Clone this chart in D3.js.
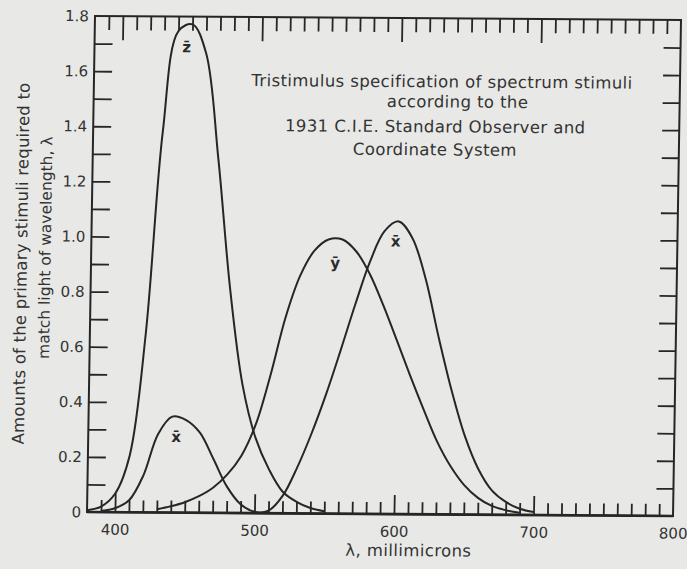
<!DOCTYPE html>
<html><head><meta charset="utf-8">
<script src="https://cdn.jsdelivr.net/npm/d3@7"></script>
<style>html,body{margin:0;padding:0;background:#e8e8e6;} svg{display:block;}</style>
</head><body>
<svg id="chart" width="687" height="569"></svg>
<script>
// ---- data (CIE 1931 colour-matching curves) ----
const xbarWavelengths = [390,400,410,420,430,440,450,460,470,480,490,500,510,520,530,540,550,560,570,580,590,600,610,620,630,640,650,660,670,680,690,700];
const xbarValues      = [0.0042,0.0143,0.0435,0.1344,0.2839,0.3483,0.3362,0.2908,0.1954,0.0956,0.0320,0.0049,0.0093,0.0633,0.1655,0.2904,0.4334,0.5945,0.7621,0.9163,1.0263,1.0622,1.0026,0.8545,0.6424,0.4479,0.2835,0.1649,0.0874,0.0468,0.0227,0.0114];
const ybarWavelengths = [430,440,450,460,470,480,490,500,510,520,530,540,550,560,570,580,590,600,610,620,630,640,650,660,670,680,690];
const ybarValues      = [0.0116,0.023,0.038,0.060,0.091,0.139,0.208,0.323,0.503,0.710,0.862,0.954,0.995,0.995,0.952,0.870,0.757,0.631,0.503,0.381,0.265,0.175,0.107,0.061,0.032,0.017,0.0082];
const zbarWavelengths = [380,390,400,410,420,430,440,450,460,470,480,490,500,510,520,530,540,550];
const zbarValues      = [0.0065,0.0201,0.0679,0.2074,0.6456,1.3856,1.7471,1.7721,1.6692,1.2876,0.8130,0.4652,0.2720,0.1582,0.0783,0.0422,0.0203,0.0088];

const curveLabelTexts = ["z\u0304","x\u0304","y\u0304","x\u0304"];
const curveLabelWl    = [446, 443, 555, 598];
const curveLabelVal   = [1.69, 0.275, 0.91, 0.99];

const yTickValues = [0,0.2,0.4,0.6,0.8,1.0,1.2,1.4,1.6,1.8];
const yTickLabels = ["0","0.2","0.4","0.6","0.8","1.0","1.2","1.4","1.6","1.8"];
const xTickValues = [400,500,600,700,800];
const xTickLabels = ["400","500","600","700","800"];

const titleLines = ["Tristimulus specification of spectrum stimuli","according to the","1931 C.I.E. Standard Observer and","Coordinate System"];
const yTitleLines = ["Amounts of the primary stimuli required to","match light of wavelength, \u03bb"];
const xTitle = "\u03bb, millimicrons";

// ---- layout ----
const L = 91, R = 677, T = 18, B = 514;
const ink = "#262626";
const font = "'DejaVu Sans', sans-serif";

const x = d3.scaleLinear().domain([380, 800]).range([L, R]);
const y = d3.scaleLinear().domain([0, 1.8]).range([B, T]);

const svg = d3.select("#chart");
svg.append("rect").attr("width", 687).attr("height", 569).attr("fill", "#e8e8e6");

// slight skew like the scanned page
const s1 = -0.0161, s2 = 0.0068, cx = 384, cy = 266;
const g = svg.append("g")
  .attr("transform", `matrix(1,${s2},${s1},1,${-s1*cy},${-s2*cx})`);

// frame
g.append("rect").attr("x", L).attr("y", T).attr("width", R - L).attr("height", B - T)
  .attr("fill", "none").attr("stroke", ink).attr("stroke-width", 2);
g.append("line").attr("x1", L).attr("x2", R).attr("y1", B).attr("y2", B)
  .attr("stroke", ink).attr("stroke-width", 2.6);

const minorY = d3.range(1, 18).map(i => i / 10);
const minorX = d3.range(390, 800, 10);
const majorX = [400, 500, 600, 700];

function styleAxis(sel) {
  sel.select(".domain").remove();
  sel.selectAll(".tick line").attr("stroke", ink).attr("stroke-width", 1.8);
  sel.selectAll("text").attr("fill", "#333").style("font-family", font).style("font-size", "15px");
}

// left axis: ticks every 0.1, labels every 0.2
g.append("g").attr("transform", `translate(${L},0)`)
  .call(d3.axisLeft(y).tickValues(minorY).tickSize(-18).tickFormat(""))
  .call(styleAxis);
g.append("g").attr("transform", `translate(${L},0)`)
  .call(d3.axisLeft(y).tickValues(yTickValues).tickSize(0).tickPadding(6)
    .tickFormat((d, i) => yTickLabels[i]))
  .call(styleAxis);

// right axis ticks
g.append("g").attr("transform", `translate(${R},0)`)
  .call(d3.axisRight(y).tickValues(minorY).tickSize(-17).tickFormat(""))
  .call(styleAxis);

// top axis ticks
g.append("g").attr("transform", `translate(0,${T})`)
  .call(d3.axisTop(x).tickValues(minorX.filter(v => !majorX.includes(v))).tickSize(-14).tickFormat(""))
  .call(styleAxis);
g.append("g").attr("transform", `translate(0,${T})`)
  .call(d3.axisTop(x).tickValues(majorX).tickSize(-24).tickFormat(""))
  .call(styleAxis);

// bottom axis ticks + labels
g.append("g").attr("transform", `translate(0,${B})`)
  .call(d3.axisBottom(x).tickValues(minorX.filter(v => !majorX.includes(v))).tickSize(-12).tickFormat(""))
  .call(styleAxis);
g.append("g").attr("transform", `translate(0,${B})`)
  .call(d3.axisBottom(x).tickValues(majorX).tickSize(-19).tickFormat(""))
  .call(styleAxis);
g.append("g").attr("transform", `translate(0,${B})`)
  .call(d3.axisBottom(x).tickValues(xTickValues).tickSize(0).tickPadding(12)
    .tickFormat((d, i) => xTickLabels[i]))
  .call(styleAxis);

// curves
const line = d3.line().x(d => x(d[0])).y(d => y(d[1])).curve(d3.curveCatmullRom.alpha(0.5));
const series = [
  d3.zip(xbarWavelengths, xbarValues),
  d3.zip(ybarWavelengths, ybarValues),
  d3.zip(zbarWavelengths, zbarValues)
];
g.selectAll("path.curve").data(series).join("path")
  .attr("class", "curve")
  .attr("d", line)
  .attr("fill", "none").attr("stroke", ink).attr("stroke-width", 2);

// curve labels
g.selectAll("text.clabel").data(curveLabelTexts).join("text")
  .attr("class", "clabel")
  .attr("x", (d, i) => x(curveLabelWl[i]))
  .attr("y", (d, i) => y(curveLabelVal[i]))
  .attr("text-anchor", "middle").attr("dy", "0.35em")
  .attr("fill", "#2a2a2a")
  .style("font-family", font).style("font-size", "15px").style("font-weight", "bold")
  .text(d => d);

// title block
const titleX = [439, 455, 433, 433];
const titleY = [87, 107, 132, 155];
g.selectAll("text.title").data(titleLines).join("text")
  .attr("class", "title")
  .attr("x", (d, i) => titleX[i]).attr("y", (d, i) => titleY[i])
  .attr("text-anchor", "middle").attr("fill", "#333")
  .style("font-family", font).style("font-size", "16.5px").style("letter-spacing", "0.4px")
  .text(d => d);

// y axis title
const yTitleX = [21, 45], yTitleY = [266, 250];
const yTitleSize = ["16.5px", "15.5px"], yTitleSpacing = ["0.2px", "0px"];
g.selectAll("text.ytitle").data(yTitleLines).join("text")
  .attr("class", "ytitle")
  .attr("transform", (d, i) => `translate(${yTitleX[i]},${yTitleY[i]}) rotate(-90)`)
  .attr("text-anchor", "middle").attr("dy", "0.35em").attr("fill", "#333")
  .style("font-family", font)
  .style("font-size", (d, i) => yTitleSize[i])
  .style("letter-spacing", (d, i) => yTitleSpacing[i])
  .text(d => d);

// x axis title
g.append("text").attr("x", 413).attr("y", 556)
  .attr("text-anchor", "middle").attr("fill", "#333")
  .style("font-family", font).style("font-size", "16.5px").style("letter-spacing", "0.4px")
  .text(xTitle);
</script>
</body></html>
